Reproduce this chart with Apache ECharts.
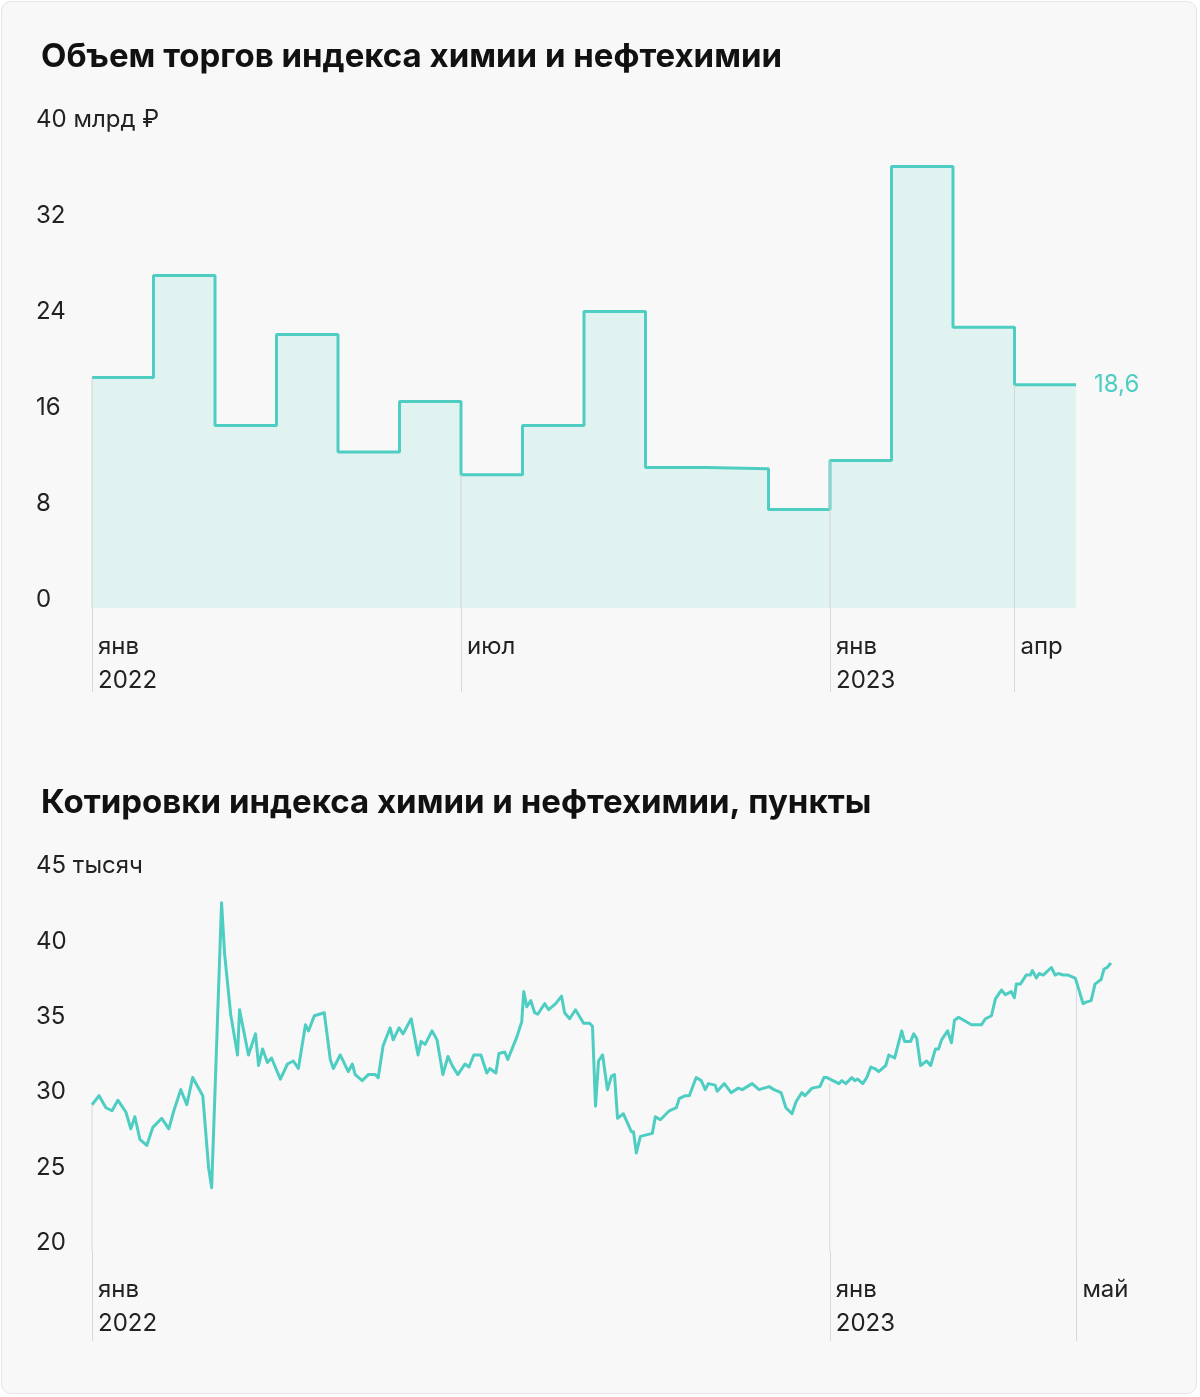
<!DOCTYPE html>
<html>
<head>
<meta charset="utf-8">
<script src="https://cdn.jsdelivr.net/npm/echarts@6/dist/echarts.min.js"></script>
<style>
  html, body { margin: 0; padding: 0; background: #fff; }
  #chart { width: 1196px; height: 1393px; margin: 1px; background: #f8f8f8; border: 1px solid #e4e4e4; border-radius: 10px; box-sizing: border-box; }
</style>
</head>
<body>
<div id="chart"></div>
<script>
// объем торгов, млрд ₽, по месяцам с янв 2022 по апр 2023
var volMonths = [0, 1, 2, 3, 4, 5, 6, 7, 8, 9, 10, 11, 12, 13, 14, 15];
var volValues = [19.2, 27.7, 15.2, 22.8, 13.0, 17.2, 11.1, 15.2, 24.7, 11.7, 11.6, 8.2, 12.3, 36.8, 23.4, 18.6];
var volTicks = [0, 6, 12, 15];
var volTickLabels = ['янв\n2022', 'июл', 'янв\n2023', 'апр'];

// котировки индекса, дни от 1 янв 2022
var quoteDays = [0, 3.5, 6.9, 9.9, 12.8, 16.8, 19.2, 21.2, 23.7, 27.1, 30.1, 34.5, 38.0, 40.5, 43.9, 46.9, 49.8, 54.8, 57.7, 59.2,
  64.1, 65.6, 68.6, 72.0, 73.0, 77.4, 80.9, 82.4, 84.4, 86.8, 88.8, 93.2, 96.7, 99.6, 102.1, 105.6, 107.1, 110.0, 114.9, 117.9,
  119.4, 122.8, 126.8, 128.8, 130.2, 133.7, 136.7, 140.1, 141.6, 144.0, 147.5, 149.0, 151.9, 153.9, 157.9, 161.3, 162.8, 164.8, 168.2, 170.7,
  173.6, 176.1, 178.6, 181.0, 184.5, 186.5, 188.9, 192.4, 195.3, 196.8, 199.8, 201.3, 204.2, 205.7, 210.2, 212.6, 213.6, 215.1, 217.1, 219.0,
  220.5, 224.0, 225.9, 229.4, 232.3, 233.8, 236.3, 239.2, 243.2, 246.2, 247.6, 249.1, 250.6, 252.6, 255.0, 257.0, 258.5, 260.0, 262.9, 266.9,
  267.9, 269.3, 271.3, 274.3, 277.2, 278.7, 281.2, 285.6, 289.1, 290.5, 293.5, 295.5, 298.9, 301.4, 303.4, 304.9, 308.3, 309.3, 312.8, 316.2,
  319.7, 321.7, 326.6, 330.0, 335.0, 337.4, 340.9, 343.3, 346.3, 348.3, 351.2, 352.7, 356.2, 360.1, 362.1, 363.6, 369.5, 371.0, 372.9, 375.9,
  377.4, 378.8, 381.3, 383.3, 385.3, 387.2, 389.2, 392.7, 394.2, 397.1, 400.6, 402.0, 405.0, 406.5, 408.0, 409.9, 412.9, 414.9, 417.3, 418.8,
  420.3, 423.3, 425.2, 426.7, 428.7, 435.1, 440.0, 442.0, 445.0, 446.9, 449.9, 451.9, 454.8, 456.3, 457.3, 459.3, 462.2, 464.2, 465.2, 467.2,
  468.6, 470.6, 474.6, 476.5, 478.0, 480.5, 482.9, 486.4, 487.4, 490.3, 491.8, 494.3, 496.2, 499.2, 500.7, 502.2, 504.1];
var quoteValues = [29.7, 30.3, 29.5, 29.3, 30.0, 29.2, 28.1, 28.9, 27.4, 27.0, 28.2, 28.8, 28.1, 29.3, 30.7, 29.7, 31.5, 30.3, 25.5, 24.2,
  43.1, 39.7, 35.7, 33.0, 36.0, 33.0, 34.4, 32.3, 33.4, 32.5, 32.8, 31.4, 32.4, 32.6, 32.1, 35.0, 34.6, 35.6, 35.8, 32.7,
  32.1, 33.0, 31.9, 32.4, 31.7, 31.3, 31.7, 31.7, 31.5, 33.6, 34.8, 34.0, 34.8, 34.4, 35.4, 33.0, 33.9, 33.7, 34.6, 34.0,
  31.7, 32.9, 32.2, 31.7, 32.4, 32.2, 33.0, 33.0, 31.8, 32.1, 31.8, 33.1, 33.2, 32.7, 34.2, 35.2, 37.2, 36.2, 36.6, 35.8,
  35.7, 36.4, 36.0, 36.4, 36.9, 35.8, 35.4, 36.0, 35.1, 35.1, 34.9, 29.6, 32.6, 33.0, 30.7, 31.6, 31.7, 28.8, 29.1, 27.9,
  27.9, 26.5, 27.6, 27.7, 27.8, 28.9, 28.7, 29.3, 29.5, 30.1, 30.3, 30.3, 31.5, 31.3, 30.7, 31.1, 31.0, 30.6, 31.1, 30.5,
  30.8, 30.7, 31.1, 30.7, 30.9, 30.7, 30.5, 29.5, 29.1, 29.9, 30.5, 30.3, 30.8, 30.9, 31.5, 31.5, 31.1, 31.3, 31.1, 31.5,
  31.3, 31.4, 31.1, 31.5, 32.2, 32.1, 31.9, 32.3, 33.0, 32.8, 34.6, 33.9, 33.9, 34.4, 34.1, 32.3, 32.6, 32.3, 33.4, 33.4,
  34.0, 34.6, 33.8, 35.3, 35.5, 35.0, 35.0, 35.4, 35.6, 36.7, 37.3, 37.0, 37.2, 36.8, 37.7, 37.7, 38.3, 38.3, 38.6, 38.1,
  38.4, 38.3, 38.8, 38.3, 38.4, 38.3, 38.3, 38.1, 37.7, 36.4, 36.5, 36.6, 37.7, 38.0, 38.7, 38.8, 39.1];
var quoteTicks = [0, 365, 487];
var quoteTickLabels = ['янв\n2022', 'янв\n2023', 'май'];
var quoteMarks = [[0, 29.7], [365, 31.1], [487, 37.7]];

var teal = '#4ecdc2';
var fontFamily = 'Inter, Roboto, sans-serif';

var volData = volMonths.map(function (m, i) { return [m, volValues[i]]; });
volData.push([16, volValues[volValues.length - 1]]);
var volMarks = volTicks.map(function (m) { return [m, volValues[m]]; });
var quoteData = quoteDays.map(function (d, i) { return [d, quoteValues[i]]; });

function xLabels(ticks, names) {
  return {
    customValues: ticks,
    align: 'left',
    padding: [0, 0, 0, 6],
    margin: 22,
    fontSize: 24,
    lineHeight: 34,
    color: '#222',
    fontFamily: fontFamily,
    formatter: function (v) { return names[ticks.indexOf(v)]; }
  };
}
function yLabels(unit, top) {
  return {
    inside: false,
    align: 'left',
    margin: 56,
    verticalAlign: 'bottom',
    lineHeight: 16,
    fontSize: 24,
    color: '#222',
    fontFamily: fontFamily,
    formatter: function (v) { return v === top ? v + ' ' + unit : v; }
  };
}

var chart = echarts.init(document.getElementById('chart'));
chart.setOption({
  animation: false,
  textStyle: { fontFamily: fontFamily },
  title: [
    { text: 'Объем торгов индекса химии и нефтехимии', left: 34, top: 34,
      textStyle: { fontSize: 33, fontWeight: 'bold', color: '#111', fontFamily: fontFamily } },
    { text: 'Котировки индекса химии и нефтехимии, пункты', left: 34, top: 780,
      textStyle: { fontSize: 33, fontWeight: 'bold', color: '#111', fontFamily: fontFamily } }
  ],
  grid: [
    { left: 90, right: 120, top: 126, height: 480 },
    { left: 90, right: 61, top: 872, height: 377 }
  ],
  xAxis: [
    { gridIndex: 0, type: 'value', min: 0, max: 16,
      axisLine: { show: false }, splitLine: { show: false },
      axisTick: { customValues: volTicks, length: 84, lineStyle: { color: '#d8d8d8', width: 1 } },
      axisLabel: xLabels(volTicks, volTickLabels) },
    { gridIndex: 1, type: 'value', min: 0, max: 516,
      axisLine: { show: false }, splitLine: { show: false },
      axisTick: { customValues: quoteTicks, length: 90, lineStyle: { color: '#d8d8d8', width: 1 } },
      axisLabel: xLabels(quoteTicks, quoteTickLabels) }
  ],
  yAxis: [
    { gridIndex: 0, type: 'value', min: 0, max: 40, interval: 8,
      axisLine: { show: false }, axisTick: { show: false }, splitLine: { show: false },
      axisLabel: yLabels('млрд ₽', 40) },
    { gridIndex: 1, type: 'value', min: 20, max: 45, interval: 5,
      axisLine: { show: false }, axisTick: { show: false }, splitLine: { show: false },
      axisLabel: yLabels('тысяч', 45) }
  ],
  series: [
    { type: 'line', xAxisIndex: 0, yAxisIndex: 0, step: 'end', data: volData,
      symbol: 'none', z: 3,
      lineStyle: { color: teal, width: 3 },
      areaStyle: { color: '#e1f3f0', opacity: 1 },
      endLabel: { show: true, distance: 18, fontSize: 24, color: teal, fontFamily: fontFamily,
        formatter: function (p) { return String(p.value[1]).replace('.', ','); } } },
    { type: 'bar', xAxisIndex: 0, yAxisIndex: 0, data: volMarks, barWidth: 1, z: 4,
      itemStyle: { color: '#d4d4d4' }, silent: true },
    { type: 'bar', xAxisIndex: 1, yAxisIndex: 1, data: quoteMarks, barWidth: 1, z: 1,
      itemStyle: { color: '#d8d8d8' }, silent: true },
    { type: 'line', xAxisIndex: 1, yAxisIndex: 1, data: quoteData, symbol: 'none', z: 3,
      lineStyle: { color: teal, width: 3, join: 'round' } }
  ]
});
</script>
</body>
</html>
